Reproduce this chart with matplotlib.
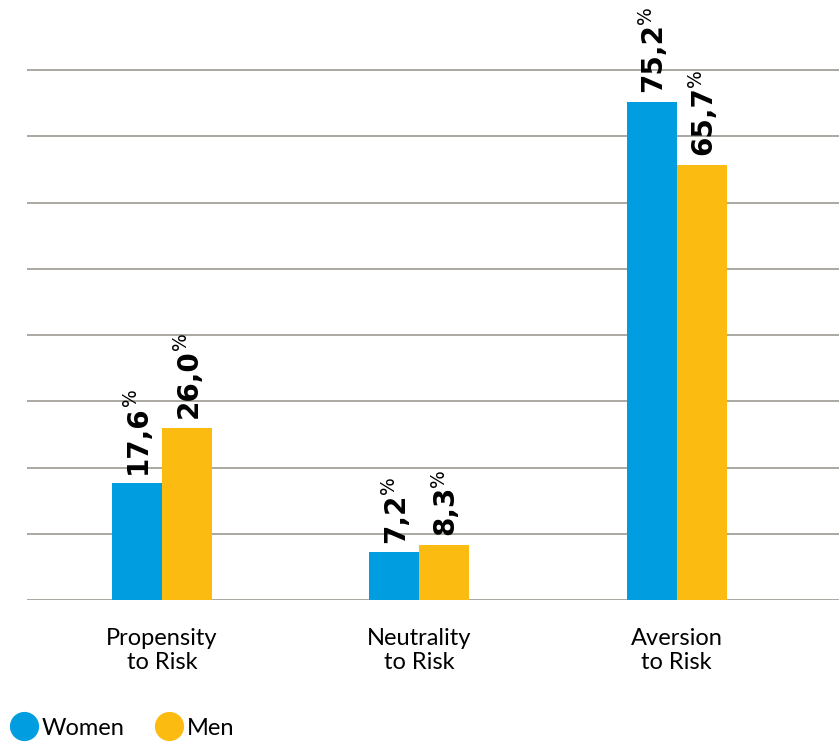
import numpy as np
import matplotlib.pyplot as plt
from matplotlib.lines import Line2D

categories = ["Propensity\nto Risk", "Neutrality\nto Risk", "Aversion\nto Risk"]
women = [17.6, 7.2, 75.2]
men = [26.0, 8.3, 65.7]
series_names = ["Women", "Men"]
grid_ticks = list(range(0, 81, 10))

blue = "#009ee0"
yellow = "#fbbb10"
grid_col = "#aba7a1"

plt.rcParams['font.family'] = ['Lato', 'DejaVu Sans']

fig = plt.figure(figsize=(8.39, 7.45), dpi=100)
ax = fig.add_axes([27 / 839, 145 / 745, 812 / 839, 600 / 745])

x = np.arange(len(categories))
w = 0.194
b1 = ax.bar(x - w / 2, women, w, color=blue, zorder=3)
b2 = ax.bar(x + w / 2, men, w, color=yellow, zorder=3)

ax.set_xlim(-0.524, 2.63)
ax.set_ylim(0, 90.6)
ax.set_yticks(grid_ticks)
ax.set_yticklabels([])
ax.yaxis.grid(True, color=grid_col, linewidth=1.4, zorder=0)
ax.tick_params(axis='both', length=0)
ax.set_xticks(x)
ax.set_xticklabels(categories, fontsize=17, linespacing=1.2)
ax.tick_params(axis='x', pad=20)
for s in ax.spines.values():
    s.set_visible(False)

# value labels
nums = []
for bars, vals in ((b1, women), (b2, men)):
    for rect, v in zip(bars, vals):
        t = ax.annotate(f"{v:.1f}".replace(".", ","),
                        (rect.get_x() + rect.get_width() / 2, v),
                        xytext=(1, 7), textcoords='offset points',
                        ha='center', va='bottom', rotation=90,
                        fontsize=20, fontweight='bold', family='DejaVu Sans',
                        zorder=4)
        nums.append(t)

fig.canvas.draw()
r = fig.canvas.get_renderer()
inv = fig.transFigure.inverted()
for t in nums:
    bb = t.get_window_extent(r)
    fx, fy = inv.transform((bb.x0 - 3, bb.y1 - 1))
    fig.text(fx, fy, "%", rotation=90, ha='left', va='bottom',
             fontsize=13.5, color='black', family='DejaVu Sans')

# legend
handles = [Line2D([], [], marker='o', linestyle='', markersize=20, color=c)
           for c in (blue, yellow)]
fig.legend(handles, series_names, loc='lower left', bbox_to_anchor=(-0.004, -0.012),
           ncol=2, frameon=False, fontsize=17, handletextpad=0.25,
           columnspacing=1.4, handlelength=1.0, borderaxespad=0.25)

fig.savefig("out.png", dpi=100)
